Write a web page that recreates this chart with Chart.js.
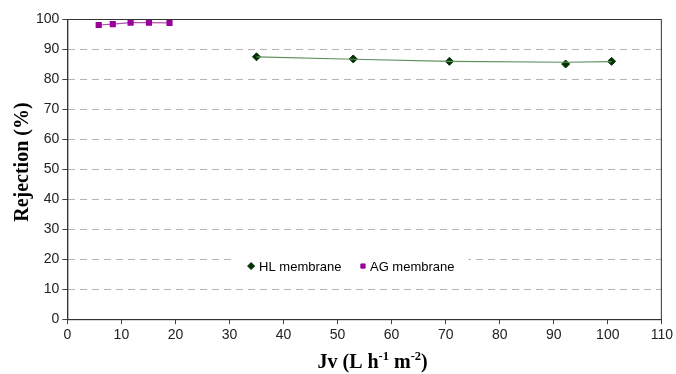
<!DOCTYPE html>
<html>
<head>
<meta charset="utf-8">
<script src="https://cdn.jsdelivr.net/npm/chart.js@4/dist/chart.umd.min.js"></script>
<style>
  html, body { margin: 0; padding: 0; background: #fff; }
  #wrap { width: 676px; height: 374px; }
</style>
</head>
<body>
<div id="wrap"><canvas id="chart"></canvas></div>
<script>
// values
const hlFlux = [35.0, 52.9, 70.7, 92.2, 100.7];
const hlRejection = [87.4, 86.7, 85.9, 85.0, 85.9];
const hlTrend = [87.4, 86.6, 85.9, 85.6, 85.8];

const agFlux = [5.8, 8.4, 11.7, 15.1, 18.9];
const agRejection = [98.0, 98.3, 98.8, 98.8, 98.7];

const xTicks = [0, 10, 20, 30, 40, 50, 60, 70, 80, 90, 100, 110];
const yTicks = [0, 10, 20, 30, 40, 50, 60, 70, 80, 90, 100];

const legendLabels = ["HL membrane", "AG membrane"];
const yTitle = "Rejection (%)";

const toPoints = (xs, ys) => xs.map((x, i) => ({ x: x, y: ys[i] }));

const HL_COLOR = "#003300";
const AG_COLOR = "#990099";
const TICK_FONT = "'Liberation Sans', Arial, sans-serif";
const SERIF_BOLD = "bold 20px 'Liberation Serif', 'Times New Roman', serif";

// frame + inside legend + axis titles
const extras = {
	id: "extras",
	afterDraw(chart) {
		const ctx = chart.ctx;
		const area = chart.chartArea;
		const xs = chart.scales.x;
		const ys = chart.scales.y;
		ctx.save();

		ctx.strokeStyle = "#333";
		ctx.lineWidth = 1;
		ctx.strokeRect(area.left + 0.5, area.top + 0.5, area.right - area.left - 1, area.bottom - area.top);

		// legend box
		const boxLeft = xs.getPixelForValue(31.2);
		const boxRight = xs.getPixelForValue(74.2);
		const midY = ys.getPixelForValue(17.7);
		ctx.fillStyle = "#fff";
		ctx.fillRect(boxLeft, midY - 11, boxRight - boxLeft, 22);

		ctx.font = "13px 'Liberation Sans', Arial, sans-serif";
		ctx.textBaseline = "middle";

		let x = xs.getPixelForValue(34.0);
		ctx.fillStyle = HL_COLOR;
		ctx.strokeStyle = HL_COLOR;
		Chart.helpers.drawPoint(ctx, { pointStyle: "rectRot", radius: 3.5, rotation: 0, borderWidth: 1 }, x, midY);
		ctx.fillStyle = "#000";
		ctx.fillText(legendLabels[0], x + 8, midY + 1);

		x = xs.getPixelForValue(54.7);
		ctx.fillStyle = AG_COLOR;
		ctx.strokeStyle = AG_COLOR;
		Chart.helpers.drawPoint(ctx, { pointStyle: "rect", radius: 3, rotation: 0, borderWidth: 1 }, x, midY);
		ctx.fillStyle = "#000";
		ctx.fillText(legendLabels[1], x + 7, midY + 1);

		// y axis title
		ctx.save();
		ctx.translate(23, (area.top + area.bottom) / 2 - 7);
		ctx.rotate(-Math.PI / 2);
		ctx.font = SERIF_BOLD;
		ctx.textAlign = "center";
		ctx.textBaseline = "middle";
		ctx.fillText(yTitle, 0, 0);
		ctx.restore();

		// x axis title: Jv (L h^-1 m^-2)
		const parts = [
			{ t: "Jv (L h", sup: false },
			{ t: "-1", sup: true },
			{ t: " m", sup: false },
			{ t: "-2", sup: true },
			{ t: ")", sup: false }
		];
		const small = "bold 12.5px 'Liberation Serif', 'Times New Roman', serif";
		let total = 0;
		parts.forEach((p) => {
			ctx.font = p.sup ? small : SERIF_BOLD;
			p.w = ctx.measureText(p.t).width;
			total += p.w;
		});
		let cx = (area.left + area.right) / 2 - total / 2 + 8;
		const base = area.bottom + 49;
		ctx.textBaseline = "alphabetic";
		ctx.textAlign = "left";
		parts.forEach((p) => {
			ctx.font = p.sup ? small : SERIF_BOLD;
			ctx.fillText(p.t, cx, p.sup ? base - 8 : base);
			cx += p.w;
		});

		ctx.restore();
	}
};

new Chart(document.getElementById("chart"), {
	type: "scatter",
	data: {
		datasets: [
			{
				label: "HL trend",
				data: toPoints(hlFlux, hlTrend),
				showLine: true,
				borderColor: "#5f8f5f",
				borderWidth: 1.2,
				pointRadius: 0,
				fill: false
			},
			{
				label: legendLabels[0],
				data: toPoints(hlFlux, hlRejection),
				showLine: false,
				pointStyle: "rectRot",
				pointRadius: 4,
				backgroundColor: HL_COLOR,
				borderColor: HL_COLOR,
				borderWidth: 1
			},
			{
				label: legendLabels[1],
				data: toPoints(agFlux, agRejection),
				showLine: true,
				pointStyle: "rect",
				pointRadius: 3.5,
				backgroundColor: AG_COLOR,
				borderColor: "#b450b4",
				pointBorderColor: AG_COLOR,
				borderWidth: 1.2
			}
		]
	},
	options: {
		responsive: true,
		maintainAspectRatio: false,
		animation: false,
		layout: {
			padding: { top: 19, right: 4, bottom: 27, left: 13 }
		},
		plugins: {
			legend: { display: false },
			tooltip: { enabled: false }
		},
		scales: {
			x: {
				type: "linear",
				min: 0,
				max: 110,
				afterBuildTicks: (scale) => { scale.ticks = xTicks.map((v) => ({ value: v })); },
				grid: {
					drawOnChartArea: false,
					drawTicks: true,
					tickLength: 5,
					tickColor: "#444"
				},
				border: { color: "#333", width: 1 },
				ticks: {
					color: "#222",
					padding: 3,
					maxRotation: 0,
					font: { family: TICK_FONT, size: 14 }
				}
			},
			y: {
				type: "linear",
				min: 0,
				max: 100,
				afterBuildTicks: (scale) => { scale.ticks = yTicks.map((v) => ({ value: v })); },
				grid: {
					color: (c) => (c.tick && (c.tick.value === 0 || c.tick.value === 100)) ? "rgba(0,0,0,0)" : "#b4b4b4",
					lineWidth: 1,
					drawTicks: true,
					tickLength: 5,
					tickColor: "#444"
				},
				border: { color: "#333", width: 1, dash: [7, 5] },
				ticks: {
					color: "#222",
					padding: 3,
					font: { family: TICK_FONT, size: 14 }
				},
				// reserves the room; the title itself is drawn by the plugin
				title: {
					display: true,
					text: yTitle,
					color: "rgba(0,0,0,0)",
					padding: { top: 0, bottom: 1 },
					font: { family: "'Liberation Serif', 'Times New Roman', serif", size: 19, weight: "bold", lineHeight: 1.0 }
				}
			}
		}
	},
	plugins: [extras]
});
</script>
</body>
</html>
